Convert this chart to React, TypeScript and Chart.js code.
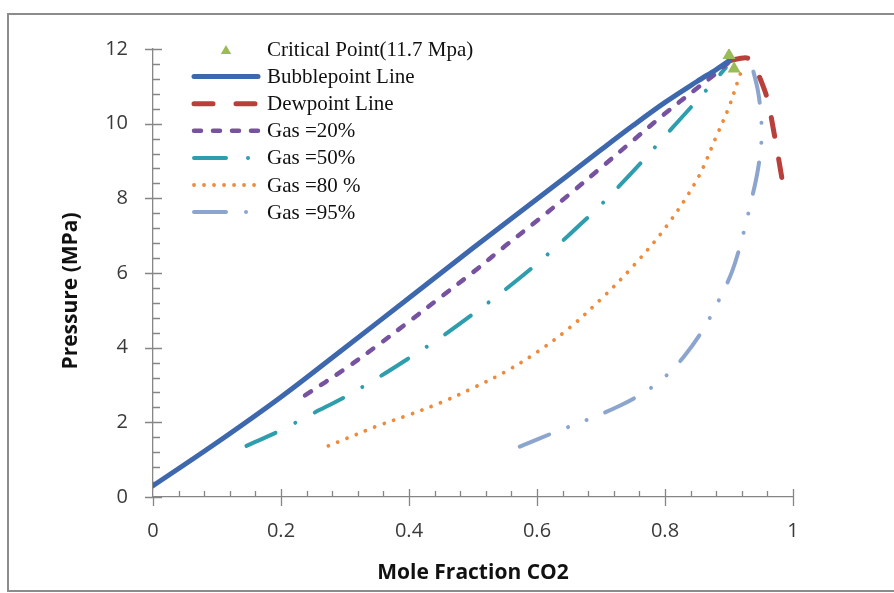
import { useEffect, useRef } from "react";
import { Chart, registerables } from "chart.js";

Chart.register(...registerables);

// Axis ranges and tick steps
const xMajorStep = 0.2;
const xMinorStep = 0.04;
const yMajorStep = 2;
const yMinorStep = 0.4;
const xMax = 1;
const yMax = 12;

const xTitle = "Mole Fraction CO2";
const yTitle = "Pressure (MPa)";

// Critical point markers
const criticalX = [0.9, 0.908];
const criticalY = [11.83, 11.47];

// Bubblepoint line
const bubbleX = [0, 0.1, 0.2, 0.3, 0.4, 0.5, 0.6, 0.7, 0.75, 0.8, 0.85, 0.88, 0.9];
const bubbleY = [0.3, 1.46, 2.68, 4.0, 5.33, 6.67, 7.98, 9.3, 9.95, 10.57, 11.13, 11.45, 11.68];

// Dewpoint line
const dewX = [0.9, 0.915, 0.93, 0.94, 0.95, 0.96, 0.972, 0.985];
const dewY = [11.68, 11.74, 11.75, 11.52, 11.15, 10.65, 9.6, 8.3];

// Gas = 20 %
const gas20X = [0.2375, 0.3, 0.35, 0.4, 0.45, 0.5, 0.55, 0.6, 0.65, 0.7, 0.75, 0.8, 0.85, 0.88, 0.9];
const gas20Y = [2.72, 3.43, 4.05, 4.7, 5.36, 6.02, 6.72, 7.4, 8.1, 8.82, 9.55, 10.27, 10.95, 11.35, 11.65];

// Gas = 50 %
const gas50X = [0.146, 0.2, 0.25, 0.3, 0.35, 0.4, 0.45, 0.5, 0.55, 0.6, 0.65, 0.7, 0.75, 0.8, 0.85, 0.875, 0.895];
const gas50Y = [1.37, 1.79, 2.24, 2.68, 3.18, 3.72, 4.28, 4.9, 5.55, 6.25, 7.02, 7.83, 8.72, 9.67, 10.62, 11.1, 11.5];

// Gas = 80 %
const gas80X = [0.274, 0.3, 0.35, 0.4, 0.45, 0.5, 0.55, 0.6, 0.65, 0.7, 0.75, 0.8, 0.85, 0.88, 0.9, 0.915, 0.922];
const gas80Y = [1.37, 1.55, 1.9, 2.2, 2.53, 2.92, 3.35, 3.88, 4.52, 5.3, 6.18, 7.2, 8.5, 9.65, 10.45, 11.2, 11.55];

// Gas = 95 %
const gas95X = [0.573, 0.63, 0.68, 0.73, 0.77, 0.8, 0.83, 0.86, 0.885, 0.905, 0.92, 0.935, 0.945, 0.951, 0.95, 0.945, 0.935];
const gas95Y = [1.35, 1.75, 2.08, 2.45, 2.83, 3.22, 3.77, 4.5, 5.3, 6.05, 6.9, 7.95, 8.75, 9.6, 10.2, 10.9, 11.6];

const seriesLabels = [
  "Critical Point(11.7 Mpa)",
  "Bubblepoint Line",
  "Dewpoint Line",
  "Gas =20%",
  "Gas =50%",
  "Gas =80 %",
  "Gas =95%",
];

const pts = (xs: number[], ys: number[]) => xs.map((x, i) => ({ x, y: ys[i] }));

const SANS = "'Open Sans', 'Liberation Sans', sans-serif";
const SERIF = "'Liberation Serif', 'DejaVu Serif', serif";

// Frame, crossing tick marks, axis titles and the in-plot legend
const decorations = {
  id: "decorations",
  beforeDraw(chart: any) {
    const { ctx, width, height } = chart;
    ctx.save();
    ctx.fillStyle = "#ffffff";
    ctx.fillRect(0, 0, width, height);
    ctx.strokeStyle = "#8c8c8c";
    ctx.lineWidth = 2;
    ctx.strokeRect(8, 14, width + 20, height - 16);
    ctx.restore();
  },
  beforeDatasetsDraw(chart: any) {
    const { ctx, scales } = chart;
    const xs = scales.x;
    const ys = scales.y;
    const x0 = xs.getPixelForValue(0);
    const y0 = ys.getPixelForValue(0);
    ctx.save();
    ctx.strokeStyle = "#868686";
    ctx.lineWidth = 1.3;
    ctx.beginPath();
    for (let i = 1; i <= Math.round(xMax / xMinorStep); i++) {
      const v = i * xMinorStep;
      const px = Math.round(xs.getPixelForValue(v)) + 0.5;
      const major = Math.abs(v / xMajorStep - Math.round(v / xMajorStep)) < 1e-6;
      ctx.moveTo(px, y0 - (major ? 8 : 6));
      ctx.lineTo(px, y0 + (major ? 9 : 0));
    }
    for (let i = 0; i <= Math.round(yMax / yMinorStep); i++) {
      const v = i * yMinorStep;
      const py = Math.round(ys.getPixelForValue(v)) + 0.5;
      const major = Math.abs(v / yMajorStep - Math.round(v / yMajorStep)) < 1e-6;
      if (major) {
        ctx.moveTo(x0 - 8, py);
        ctx.lineTo(x0 + 9, py);
      } else {
        ctx.moveTo(x0, py);
        ctx.lineTo(x0 + 7, py);
      }
    }
    ctx.moveTo(Math.round(x0) + 0.5, y0);
    ctx.lineTo(Math.round(x0) + 0.5, y0 + 9);
    ctx.stroke();
    ctx.restore();
  },
  afterDraw(chart: any) {
    const { ctx, chartArea } = chart;
    ctx.save();
    // axis titles
    ctx.fillStyle = "#111111";
    ctx.font = `bold 21px ${SANS}`;
    ctx.textAlign = "center";
    ctx.textBaseline = "middle";
    ctx.fillText(xTitle, (chartArea.left + chartArea.right) / 2, 573);
    ctx.save();
    ctx.translate(71, 291);
    ctx.rotate(-Math.PI / 2);
    ctx.fillText(yTitle, 0, 0);
    ctx.restore();

    // legend
    const sampleLeft = 194;
    const sampleRight = 258;
    const textX = 267;
    chart.data.datasets.forEach((ds: any, i: number) => {
      const rowY = 49.5 + i * 27.1;
      ctx.save();
      if (ds.showLine === false) {
        const r = 6;
        const cx = (sampleLeft + sampleRight) / 2;
        const cy = rowY + 1.5;
        ctx.fillStyle = ds.backgroundColor;
        ctx.beginPath();
        ctx.moveTo(cx, cy - r);
        ctx.lineTo(cx + r * 0.866, cy + r * 0.5);
        ctx.lineTo(cx - r * 0.866, cy + r * 0.5);
        ctx.closePath();
        ctx.fill();
      } else {
        ctx.strokeStyle = ds.borderColor;
        ctx.lineWidth = ds.borderWidth;
        ctx.lineCap = "round";
        ctx.setLineDash(ds.borderDash || []);
        ctx.beginPath();
        ctx.moveTo(sampleLeft, rowY);
        ctx.lineTo(sampleRight, rowY);
        ctx.stroke();
      }
      ctx.restore();
      ctx.fillStyle = "#111111";
      ctx.font = `21px ${SERIF}`;
      ctx.textAlign = "left";
      ctx.textBaseline = "middle";
      ctx.fillText(ds.label, textX, rowY + 1);
    });
    ctx.restore();
  },
};

const lineDataset = (label: string, data: any[], color: string, width: number, dash: number[]) => ({
  label,
  data,
  borderColor: color,
  backgroundColor: color,
  borderWidth: width,
  borderDash: dash,
  borderCapStyle: "round",
  borderJoinStyle: "round",
  pointRadius: 0,
  pointHoverRadius: 0,
  tension: 0.35,
  fill: false,
  showLine: true,
});

export default function App() {
  const canvasRef = useRef<HTMLCanvasElement | null>(null);

  useEffect(() => {
    if (!canvasRef.current) return;
    const chart = new Chart(canvasRef.current, {
      type: "scatter",
      data: {
        datasets: [
          {
            label: seriesLabels[0],
            data: pts(criticalX, criticalY),
            showLine: false,
            pointStyle: "triangle",
            pointRadius: 7.5,
            pointBorderWidth: 0,
            borderWidth: 0,
            backgroundColor: "#9BBB59",
            borderColor: "#9BBB59",
            order: 0,
          } as any,
          { ...lineDataset(seriesLabels[1], pts(bubbleX, bubbleY), "#3E68AD", 5, []), order: 1 },
          { ...lineDataset(seriesLabels[2], pts(dewX, dewY), "#B93F3B", 5, [19, 23]), order: 1 },
          { ...lineDataset(seriesLabels[3], pts(gas20X, gas20Y), "#7652A0", 4.5, [7, 12]), order: 1 },
          { ...lineDataset(seriesLabels[4], pts(gas50X, gas50Y), "#2E9EAF", 4, [32, 22, 0.01, 22]), order: 1 },
          { ...lineDataset(seriesLabels[5], pts(gas80X, gas80Y), "#EE8B3B", 3.8, [0.01, 10]), order: 1 },
          { ...lineDataset(seriesLabels[6], pts(gas95X, gas95Y), "#8CA5CE", 4, [32, 20, 0.01, 20, 0.01, 20]), order: 1 },
        ],
      },
      options: {
        animation: false,
        responsive: true,
        maintainAspectRatio: false,
        events: [],
        layout: { padding: { left: 0, top: 49, right: 101, bottom: 0 } },
        plugins: {
          legend: { display: false },
          tooltip: { enabled: false },
        },
        scales: {
          x: {
            type: "linear",
            min: 0,
            max: xMax,
            afterFit(scale: any) {
              scale.height = 96;
            },
            ticks: {
              stepSize: xMajorStep,
              padding: 22,
              color: "#3a3a3a",
              font: { family: SANS, size: 20 },
              callback: (v: any) => String(Number(Number(v).toFixed(1))),
            },
            grid: { display: false, drawTicks: false },
            border: { display: true, color: "#868686", width: 1.3 },
          },
          y: {
            type: "linear",
            min: 0,
            max: yMax,
            afterFit(scale: any) {
              scale.width = 153;
            },
            ticks: {
              stepSize: yMajorStep,
              padding: 25,
              color: "#3a3a3a",
              font: { family: SANS, size: 20 },
            },
            grid: { display: false, drawTicks: false },
            border: { display: true, color: "#868686", width: 1.3 },
          },
        },
      },
      plugins: [decorations],
    });
    return () => chart.destroy();
  }, []);

  return (
    <div style={{ position: "fixed", left: 0, top: 0, width: 894, height: 593, background: "#fff" }}>
      <canvas ref={canvasRef} />
    </div>
  );
}
